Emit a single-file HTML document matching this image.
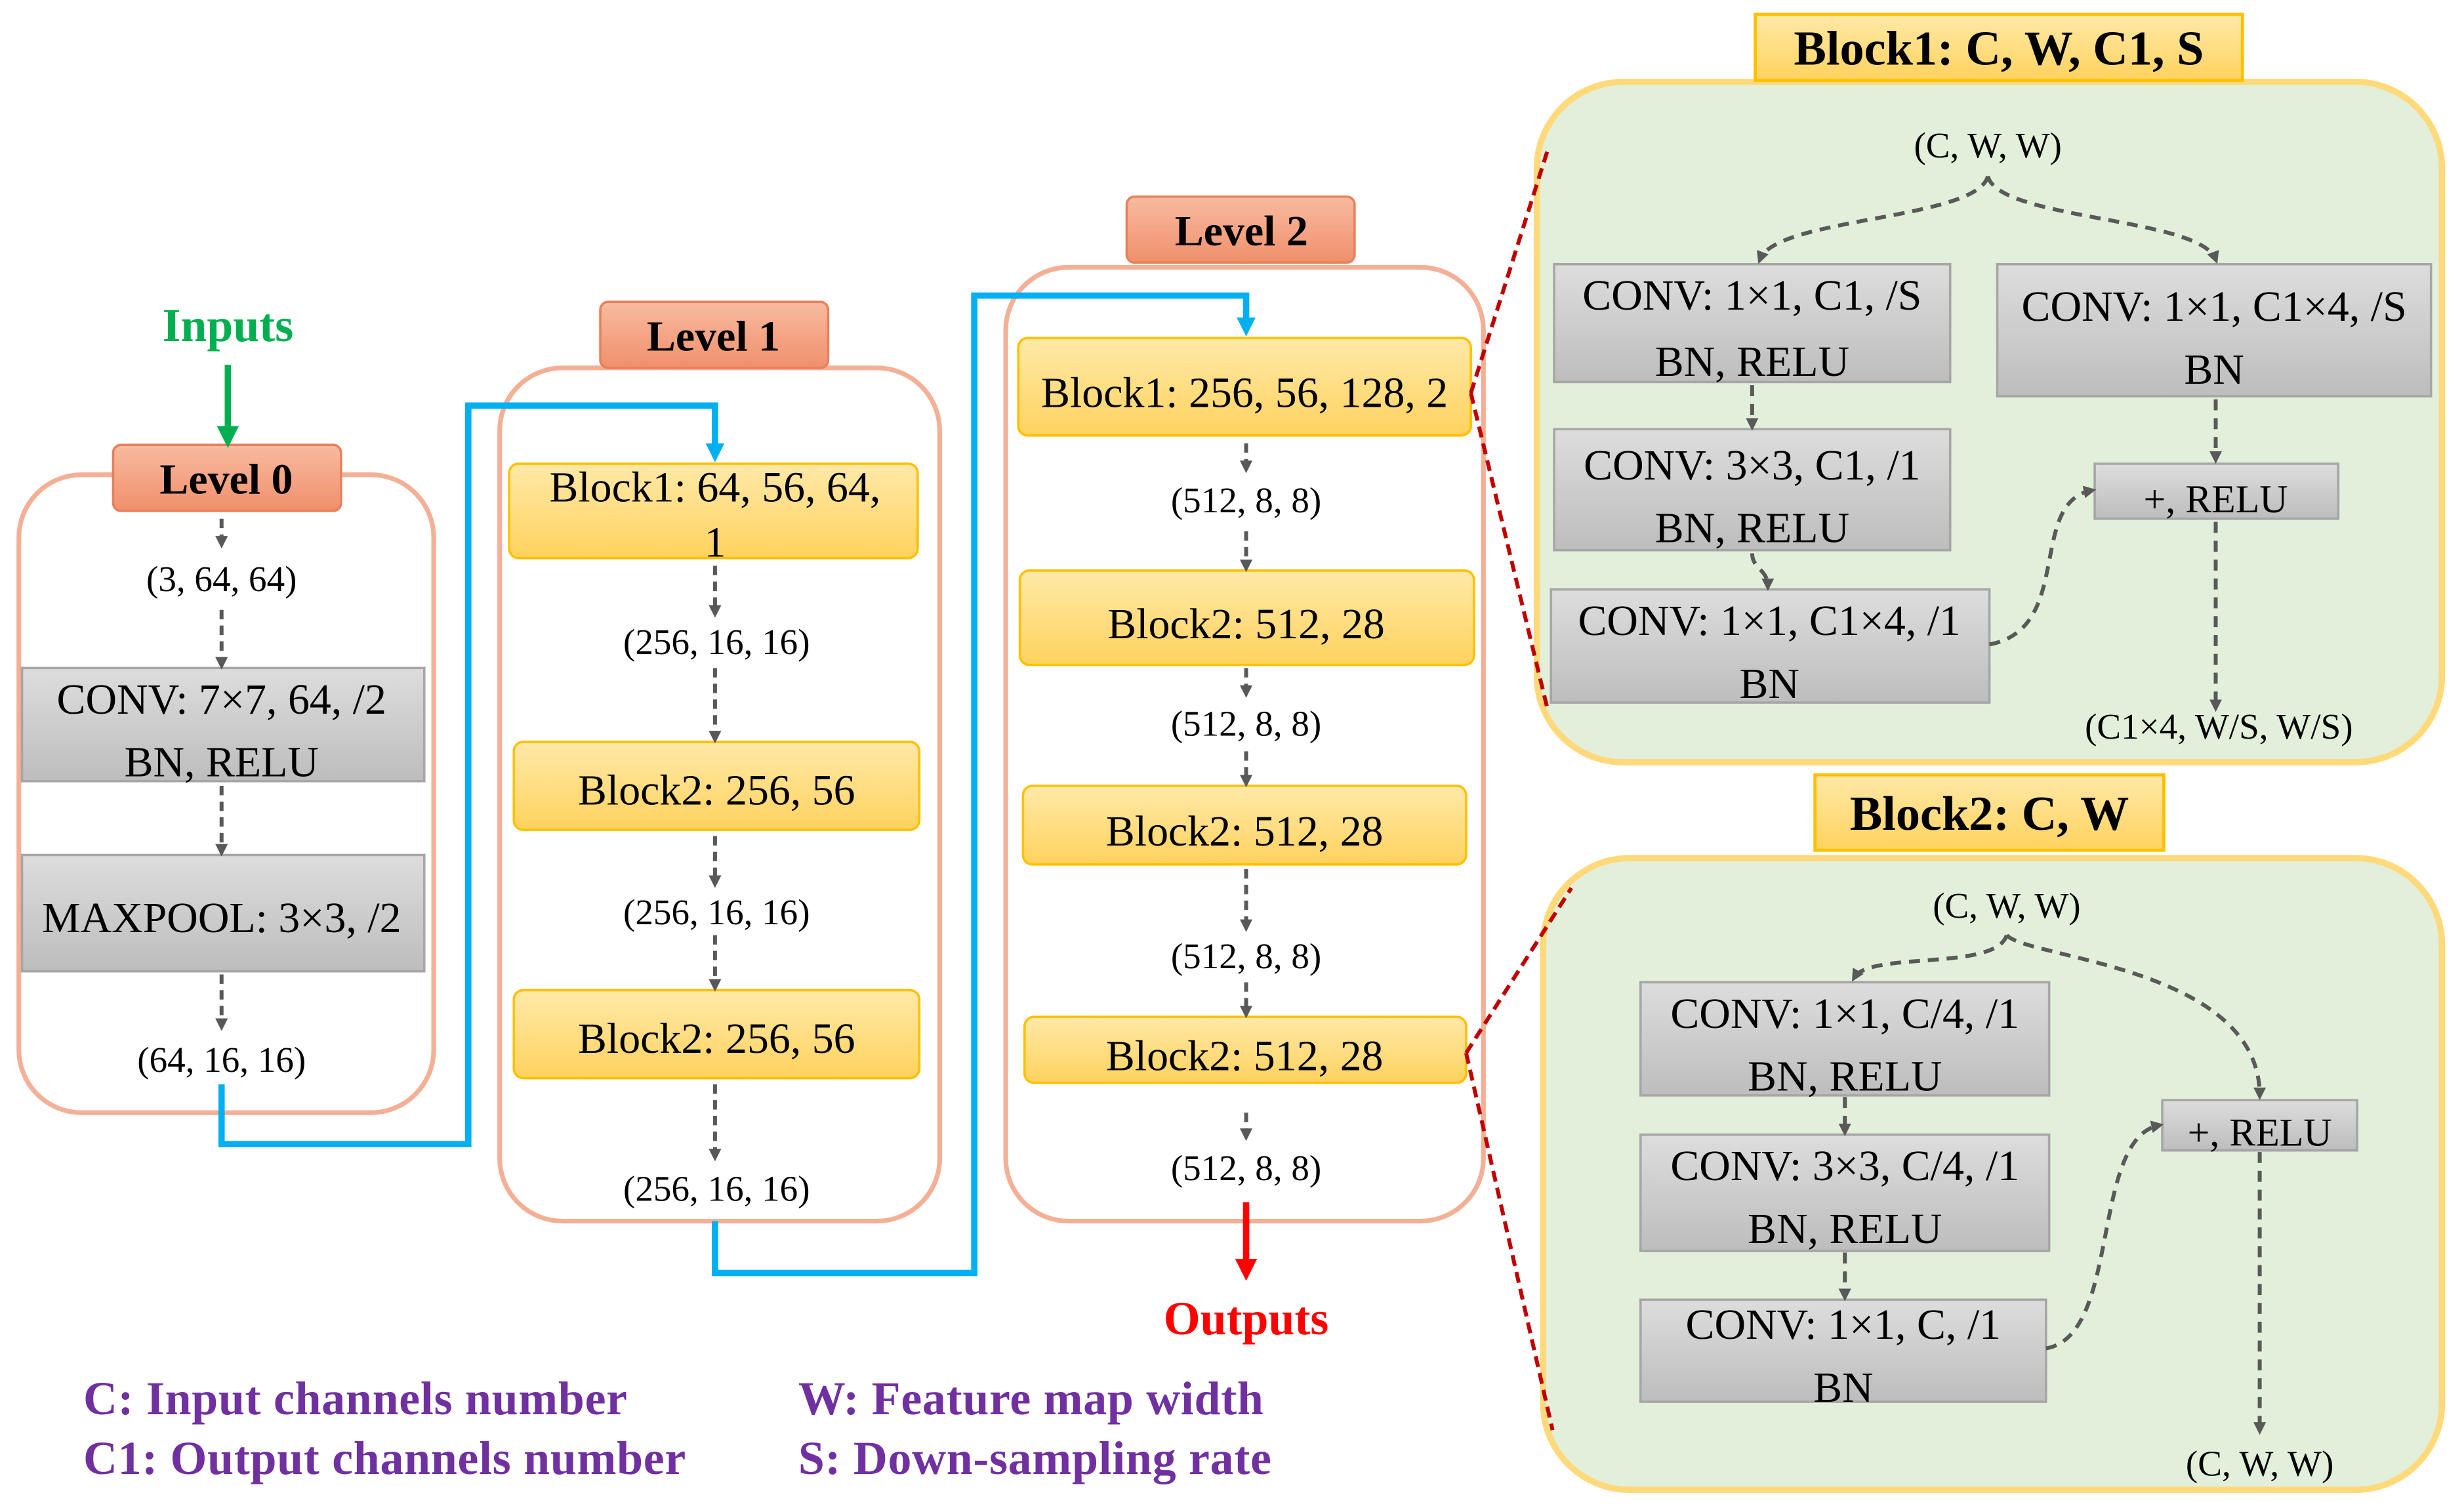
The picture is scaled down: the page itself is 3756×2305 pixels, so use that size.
<!DOCTYPE html>
<html><head><meta charset="utf-8"><style>
html,body{margin:0;padding:0;background:#fff;}
svg{display:block;}
text{font-family:"Liberation Serif",serif;fill:#000;}
</style></head><body>
<svg width="3756" height="2305" viewBox="0 0 1568 962" xmlns="http://www.w3.org/2000/svg">
<defs>
<linearGradient id="gy" x1="0" y1="0" x2="0" y2="1"><stop offset="0" stop-color="#FFE9A8"/><stop offset="1" stop-color="#FFD25E"/></linearGradient>
<linearGradient id="gs" x1="0" y1="0" x2="0" y2="1"><stop offset="0" stop-color="#F8BBA0"/><stop offset="1" stop-color="#F0906C"/></linearGradient>
<linearGradient id="gg" x1="0" y1="0" x2="0" y2="1"><stop offset="0" stop-color="#DDDDDD"/><stop offset="1" stop-color="#BDBDBD"/></linearGradient>
<marker id="ad" markerWidth="8" markerHeight="8" refX="5" refY="4" orient="auto" markerUnits="userSpaceOnUse"><path d="M0,0 L8,4 L0,8 z" fill="#595959"/></marker>
<marker id="ab" markerWidth="12" markerHeight="12" refX="8" refY="6" orient="auto" markerUnits="userSpaceOnUse"><path d="M0,0 L12,6 L0,12 z" fill="#00B0F0"/></marker>
<marker id="ag" markerWidth="14" markerHeight="14" refX="9" refY="7" orient="auto" markerUnits="userSpaceOnUse"><path d="M0,0 L14,7 L0,14 z" fill="#00B050"/></marker>
<marker id="ar" markerWidth="14" markerHeight="14" refX="9" refY="7" orient="auto" markerUnits="userSpaceOnUse"><path d="M0,0 L14,7 L0,14 z" fill="#FF0000"/></marker>
</defs>

<!-- right panels (drawn first) -->
<rect x="978" y="52" width="576" height="433" rx="55" fill="#E2EFDA" stroke="#FFD97A" stroke-width="4"/>
<rect x="982" y="546" width="572" height="402" rx="55" fill="#E2EFDA" stroke="#FFD97A" stroke-width="4"/>
<rect x="1117" y="9" width="310" height="42" fill="url(#gy)" stroke="#FFC000" stroke-width="2"/>
<rect x="1155" y="493" width="222" height="48" fill="url(#gy)" stroke="#FFC000" stroke-width="2"/>
<g font-size="31" font-weight="bold" text-anchor="middle">
<text x="1272" y="41">Block1: C, W, C1, S</text>
<text x="1266" y="528">Block2: C, W</text>
</g>

<!-- containers -->
<rect x="12" y="302" width="264" height="406" rx="40" fill="#fff" stroke="#F4B096" stroke-width="3"/>
<rect x="318" y="234" width="280" height="543" rx="40" fill="#fff" stroke="#F4B096" stroke-width="3"/>
<rect x="640" y="170" width="304" height="607" rx="40" fill="#fff" stroke="#F4B096" stroke-width="3"/>

<g stroke="#E8805C" stroke-width="1.5" fill="url(#gs)">
<rect x="72" y="283" width="145" height="42" rx="5"/>
<rect x="382" y="192" width="145" height="42" rx="5"/>
<rect x="717" y="125" width="145" height="42" rx="5"/>
</g>
<g font-size="27.5" font-weight="bold" text-anchor="middle">
<text x="144" y="314">Level 0</text>
<text x="454" y="223">Level 1</text>
<text x="790" y="156">Level 2</text>
</g>

<text x="145" y="217" font-size="30" font-weight="bold" text-anchor="middle" style="fill:#00B050">Inputs</text>
<line x1="145" y1="232" x2="145" y2="280" stroke="#00B050" stroke-width="4" marker-end="url(#ag)"/>
<text x="793" y="849" font-size="30" font-weight="bold" text-anchor="middle" style="fill:#FF0000">Outputs</text>
<line x1="793" y1="765" x2="793" y2="810" stroke="#FF0000" stroke-width="4" marker-end="url(#ar)"/>

<polyline points="141,690 141,728 298,728 298,258 455,258 455,290" fill="none" stroke="#00B0F0" stroke-width="4" marker-end="url(#ab)"/>
<polyline points="455,777 455,810 620,810 620,188 793,188 793,210" fill="none" stroke="#00B0F0" stroke-width="4" marker-end="url(#ab)"/>

<g fill="url(#gg)" stroke="#A6A6A6" stroke-width="1.5">
<rect x="14" y="425" width="256" height="72"/>
<rect x="14" y="544" width="256" height="74"/>
<rect x="989" y="168" width="252" height="75"/>
<rect x="1271" y="168" width="276" height="84"/>
<rect x="989" y="273" width="252" height="77"/>
<rect x="987" y="375" width="279" height="72"/>
<rect x="1333" y="295" width="155" height="35"/>
<rect x="1044" y="625" width="260" height="72"/>
<rect x="1044" y="722" width="260" height="74"/>
<rect x="1044" y="827" width="258" height="65"/>
<rect x="1376" y="700" width="124" height="32"/>
</g>

<g fill="url(#gy)" stroke="#FFC000" stroke-width="1.5">
<rect x="324" y="295" width="260" height="60" rx="6"/>
<rect x="327" y="472" width="258" height="56" rx="6"/>
<rect x="327" y="630" width="258" height="56" rx="6"/>
<rect x="648" y="215" width="288" height="62" rx="6"/>
<rect x="649" y="363" width="289" height="60" rx="6"/>
<rect x="651" y="500" width="282" height="50" rx="6"/>
<rect x="652" y="647" width="281" height="42" rx="6"/>
</g>

<g font-size="27.5" text-anchor="middle">
<text x="141" y="454">CONV: 7×7, 64, /2</text>
<text x="141" y="494">BN, RELU</text>
<text x="141" y="593">MAXPOOL: 3×3, /2</text>
<text x="455" y="319">Block1: 64, 56, 64,</text>
<text x="455" y="354">1</text>
<text x="456" y="512">Block2: 256, 56</text>
<text x="456" y="670">Block2: 256, 56</text>
<text x="792" y="259">Block1: 256, 56, 128, 2</text>
<text x="793" y="406">Block2: 512, 28</text>
<text x="792" y="538">Block2: 512, 28</text>
<text x="792" y="681">Block2: 512, 28</text>

<text x="1115" y="197">CONV: 1×1, C1, /S</text>
<text x="1115" y="239">BN, RELU</text>
<text x="1409" y="204">CONV: 1×1, C1×4, /S</text>
<text x="1409" y="244">BN</text>
<text x="1115" y="305">CONV: 3×3, C1, /1</text>
<text x="1115" y="345">BN, RELU</text>
<text x="1126" y="404">CONV: 1×1, C1×4, /1</text>
<text x="1126" y="444">BN</text>
<text x="1410" y="326" font-size="25">+, RELU</text>
<text x="1174" y="654">CONV: 1×1, C/4, /1</text>
<text x="1174" y="694">BN, RELU</text>
<text x="1174" y="751">CONV: 3×3, C/4, /1</text>
<text x="1174" y="791">BN, RELU</text>
<text x="1173" y="852">CONV: 1×1, C, /1</text>
<text x="1173" y="892">BN</text>
<text x="1438" y="729" font-size="25">+, RELU</text>
</g>
<g font-size="23" text-anchor="middle">
<text x="141" y="376">(3, 64, 64)</text>
<text x="141" y="682">(64, 16, 16)</text>
<text x="456" y="416">(256, 16, 16)</text>
<text x="456" y="588">(256, 16, 16)</text>
<text x="456" y="764">(256, 16, 16)</text>
<text x="793" y="326">(512, 8, 8)</text>
<text x="793" y="468">(512, 8, 8)</text>
<text x="793" y="616">(512, 8, 8)</text>
<text x="793" y="751">(512, 8, 8)</text>
<text x="1265" y="100">(C, W, W)</text>
<text x="1412" y="470">(C1×4, W/S, W/S)</text>
<text x="1277" y="584">(C, W, W)</text>
<text x="1438" y="939">(C, W, W)</text>
</g>

<g stroke="#595959" stroke-width="2.5" stroke-dasharray="6,4" marker-end="url(#ad)" fill="none">
<line x1="141" y1="330" x2="141" y2="346"/>
<line x1="141" y1="388" x2="141" y2="423"/>
<line x1="141" y1="500" x2="141" y2="542"/>
<line x1="141" y1="620" x2="141" y2="653"/>
<line x1="455" y1="360" x2="455" y2="390"/>
<line x1="455" y1="425" x2="455" y2="470"/>
<line x1="455" y1="532" x2="455" y2="562"/>
<line x1="455" y1="595" x2="455" y2="628"/>
<line x1="455" y1="690" x2="455" y2="736"/>
<line x1="793" y1="282" x2="793" y2="298"/>
<line x1="793" y1="338" x2="793" y2="361"/>
<line x1="793" y1="425" x2="793" y2="441"/>
<line x1="793" y1="478" x2="793" y2="498"/>
<line x1="793" y1="553" x2="793" y2="590"/>
<line x1="793" y1="625" x2="793" y2="645"/>
<line x1="793" y1="708" x2="793" y2="723"/>
</g>

<g font-size="30" font-weight="bold">
<text x="53" y="900" style="fill:#7030A0" letter-spacing="0.3">C: Input channels number</text>
<text x="53" y="938" style="fill:#7030A0" letter-spacing="0.3">C1: Output channels number</text>
<text x="508" y="900" style="fill:#7030A0" letter-spacing="0.3">W: Feature map width</text>
<text x="508" y="938" style="fill:#7030A0" letter-spacing="0.3">S: Down-sampling rate</text>
</g>

<g stroke="#C00000" stroke-width="2.5" stroke-dasharray="7,4" fill="none">
<line x1="936" y1="250" x2="985" y2="95"/>
<line x1="936" y1="250" x2="985" y2="452"/>
<line x1="933" y1="670" x2="1000" y2="565"/>
<line x1="933" y1="670" x2="988" y2="910"/>
</g>

<g stroke="#595959" stroke-width="2.5" stroke-dasharray="7,5" marker-end="url(#ad)" fill="none">
<path d="M1265,112 C1258,140 1130,138 1120,165"/>
<path d="M1265,112 C1272,140 1400,138 1410,165"/>
<line x1="1115" y1="245" x2="1115" y2="271"/>
<path d="M1115,352 C1115,362 1125,362 1125,373"/>
<line x1="1410" y1="254" x2="1410" y2="292"/>
<path d="M1266,410 C1320,400 1290,320 1331,312"/>
<line x1="1410" y1="332" x2="1410" y2="450"/>
<path d="M1277,595 C1270,618 1190,605 1180,622"/>
<path d="M1277,595 C1290,610 1438,615 1438,697"/>
<line x1="1174" y1="698" x2="1174" y2="720"/>
<line x1="1174" y1="797" x2="1174" y2="825"/>
<path d="M1302,858 C1350,850 1330,725 1374,716"/>
<line x1="1438" y1="733" x2="1438" y2="910"/>
</g>
</svg>
</body></html>
